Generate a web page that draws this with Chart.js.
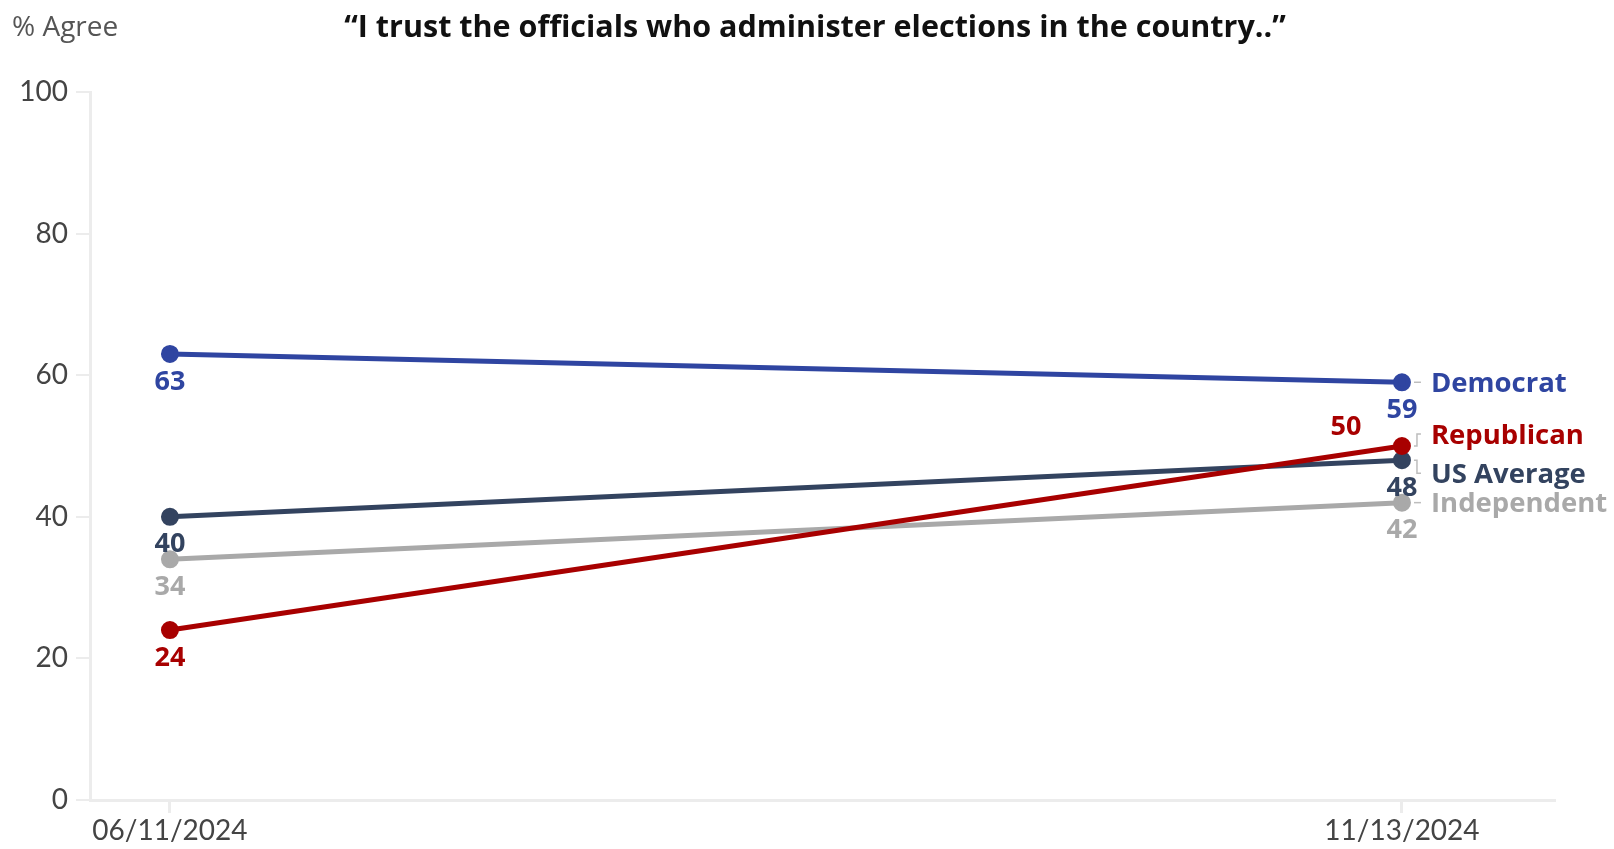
<!DOCTYPE html>
<html>
<head>
<meta charset="utf-8">
<script src="https://cdn.jsdelivr.net/npm/chart.js@4.4.1/dist/chart.umd.min.js"></script>
<style>
  html, body { margin: 0; padding: 0; background: #fff; }
  #wrap { width: 1614px; height: 849px; position: relative; }
</style>
</head>
<body>
<div id="wrap"><canvas id="chart"></canvas></div>
<script>
const dates = ["06/11/2024", "11/13/2024"]
const seriesNames = ["Republican", "Democrat", "US Average", "Independent"]
const republican = [24, 50]
const democrat = [63, 59]
const usAverage = [40, 48]
const independent = [34, 42]
const yTicks = [0, 20, 40, 60, 80, 100]

const FONT = "Lato, 'Noto Sans', sans-serif"
const BOLD_FONT = "'Open Sans', 'Noto Sans', sans-serif"
const colors = {
  "Republican": "#a80000",
  "Democrat": "#2f45a1",
  "US Average": "#33435f",
  "Independent": "#a9a9a9"
}
// small vertical nudges for the right-hand names so they don't collide
const nameNudge = { "Republican": -12, "Democrat": 0, "US Average": 13, "Independent": 0 }

const toPoints = arr => arr.map((v, i) => ({ x: i, y: v }))
const values = [republican, democrat, usAverage, independent]

const labelsPlugin = {
  id: "labels",
  afterDatasetsDraw(chart) {
    const ctx = chart.ctx
    ctx.save()
    chart.data.datasets.forEach((ds, di) => {
      const meta = chart.getDatasetMeta(di)
      const color = ds.borderColor
      ctx.fillStyle = color
      ctx.font = "bold 27px " + BOLD_FONT
      ctx.textAlign = "center"
      ctx.textBaseline = "middle"
      meta.data.forEach((pt, i) => {
        const v = ds.data[i].y
        if (ds.label === "Republican" && i === 1) {
          ctx.fillText(v, pt.x - 56, pt.y - 19)
        } else {
          ctx.fillText(v, pt.x, pt.y + 28)
        }
      })
      // series name at right end
      const last = meta.data[meta.data.length - 1]
      const ny = last.y + nameNudge[ds.label]
      ctx.strokeStyle = "#bdbdbd"
      ctx.lineWidth = 1.5
      ctx.beginPath()
      if (nameNudge[ds.label] === 0) {
        ctx.moveTo(last.x + 12, last.y)
        ctx.lineTo(last.x + 19, last.y)
      } else {
        ctx.moveTo(last.x + 12, last.y)
        ctx.lineTo(last.x + 15, last.y)
        ctx.lineTo(last.x + 15, ny)
        ctx.lineTo(last.x + 19, ny)
      }
      ctx.stroke()
      ctx.font = "bold 27.5px " + BOLD_FONT
      ctx.textAlign = "left"
      ctx.fillText(ds.label, last.x + 29, ny + 2)
    })
    ctx.restore()
  }
}

const headerPlugin = {
  id: "header",
  afterDraw(chart) {
    const ctx = chart.ctx
    ctx.save()
    ctx.fillStyle = "#555"
    ctx.font = "28px " + BOLD_FONT
    ctx.textAlign = "left"
    ctx.textBaseline = "middle"
    ctx.fillText("% Agree", 12, 28)
    ctx.fillStyle = "#111"
    ctx.font = "bold 30.5px " + BOLD_FONT
    ctx.textAlign = "center"
    ctx.fillText("\u201CI trust the officials who administer elections in the country..\u201D", 815, 28)
    ctx.restore()
  }
}

new Chart(document.getElementById("chart"), {
  type: "line",
  data: {
    datasets: seriesNames.map((name, i) => ({
      label: name,
      data: toPoints(values[i]),
      borderColor: colors[name],
      backgroundColor: colors[name],
      borderWidth: 5,
      pointRadius: 6.5,
      pointHoverRadius: 6.5
    }))
  },
  options: {
    responsive: true,
    maintainAspectRatio: false,
    animation: false,
    layout: { padding: { top: 92, right: 60, left: 0, bottom: 0 } },
    scales: {
      x: {
        type: "linear",
        min: -0.0649,
        max: 1.1234,
        afterBuildTicks: scale => { scale.ticks = dates.map((d, i) => ({ value: i })) },
        afterFit: scale => { scale.height = 49 },
        ticks: {
          callback: v => dates[v],
          color: "#444",
          font: { family: FONT, size: 28 },
          padding: 1,
          maxRotation: 0
        },
        grid: { drawOnChartArea: false, drawTicks: true, tickLength: 13, color: "#ececec", lineWidth: 3 },
        border: { color: "#ececec", width: 3 }
      },
      y: {
        min: 0,
        max: 100,
        afterBuildTicks: scale => { scale.ticks = yTicks.map(v => ({ value: v })) },
        afterFit: scale => { scale.width = 90 },
        ticks: {
          color: "#444",
          font: { family: FONT, size: 28 },
          padding: 8
        },
        grid: { drawOnChartArea: false, drawTicks: true, tickLength: 14, color: "#ececec", lineWidth: 2 },
        border: { color: "#ececec", width: 3 }
      }
    },
    plugins: {
      legend: { display: false },
      tooltip: { enabled: false }
    }
  },
  plugins: [labelsPlugin, headerPlugin]
})
</script>
</body>
</html>
